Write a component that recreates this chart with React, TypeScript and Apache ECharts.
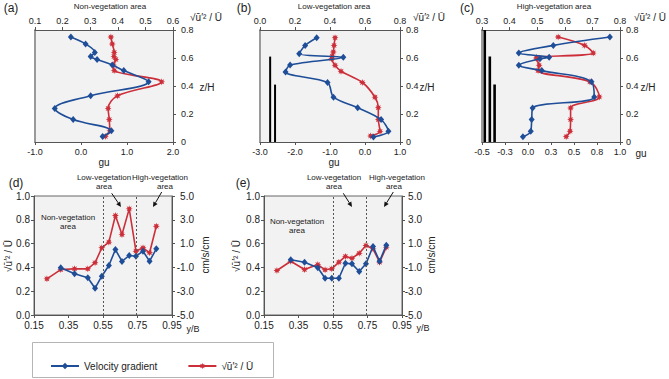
import React, { useEffect, useRef } from "react";
import * as echarts from "echarts";

const FONT = '"Liberation Sans", Arial, Helvetica, sans-serif';
const BLUE = "#1f4e98";
const RED = "#cc2f3a";
const RATIO_LABEL = "√ū′² / Ū";
const GRADIENT_LABEL = "Velocity gradient";

// (a) Non-vegetation area: vertical profiles over z/H
const zA = [0.75, 0.7, 0.64, 0.61, 0.59, 0.55, 0.51, 0.43, 0.33, 0.24, 0.16, 0.08, 0.04];
const guA = [-0.22, 0.1, 0.3, 0.21, 0.35, 0.68, 0.93, 1.47, 0.21, -0.57, -0.17, 0.66, 0.47];
const ratioA = [0.375, 0.38, 0.387, 0.386, 0.393, 0.384, 0.387, 0.559, 0.399, 0.365, 0.369, 0.371, 0.355];

// (b) Low-vegetation area
const zGuB = [0.745, 0.69, 0.63, 0.605, 0.55, 0.5, 0.425, 0.32, 0.245, 0.16, 0.076, 0.036];
const guB = [-1.38, -1.71, -1.88, -0.62, -2.14, -2.27, -1.07, -0.9, -0.21, 0.46, 0.67, 0.24];
const zRatioB = [0.745, 0.69, 0.643, 0.614, 0.595, 0.548, 0.505, 0.425, 0.32, 0.245, 0.16, 0.076, 0.043];
const ratioB = [0.429, 0.423, 0.419, 0.413, 0.41, 0.429, 0.463, 0.585, 0.657, 0.676, 0.676, 0.686, 0.632];
const stemGuB = [-2.71, -2.57];
const stemHeightB = [0.61, 0.41];

// (c) High-vegetation area
const zC = [0.75, 0.69, 0.635, 0.605, 0.595, 0.548, 0.51, 0.43, 0.322, 0.243, 0.16, 0.077, 0.038];
const guC = [0.89, 0.275, -0.1, 0.23, 0.13, -0.1, 0.15, 0.69, 0.72, 0.05, 0.04, 0.03, -0.055];
const ratioC = [0.576, 0.672, 0.703, 0.498, 0.498, 0.507, 0.503, 0.691, 0.725, 0.621, 0.621, 0.619, 0.605];
const stemGuC = [-0.47, -0.415, -0.363];
const stemHeightC = [0.8, 0.61, 0.41];

// (d), (e) lateral distributions over y/B
const yB = [0.225, 0.305, 0.385, 0.462, 0.504, 0.543, 0.584, 0.622, 0.66, 0.702, 0.741, 0.782, 0.82, 0.859];
const ratioD = [0.304, 0.382, 0.388, 0.388, 0.439, 0.565, 0.612, 0.836, 0.676, 0.892, 0.536, 0.565, 0.523, 0.746];
const gradD = [-1.03, -1.54, -1.87, -2.75, -1.74, -0.84, 0.5, -0.5, 0.0, -0.06, 0.36, -0.48, 0.56];
const ratioE = [0.374, 0.452, 0.382, 0.424, 0.38, 0.388, 0.444, 0.492, 0.477, 0.519, 0.584, 0.556, 0.444, 0.57];
const gradE = [-0.36, -0.56, -1.03, -1.91, -1.91, -1.91, -0.65, -0.7, -1.34, -0.7, 0.76, -0.48, 0.87];
const zoneBounds = [0.553, 0.745];

// axis ticks
const zTicks = [0, 0.2, 0.4, 0.6, 0.8];
const guTicksA = [-1, 0, 1, 2];
const ratioTicksA = [0.1, 0.2, 0.3, 0.4, 0.5, 0.6];
const guTicksB = [-3, -2, -1, 0, 1];
const ratioTicksB = [0, 0.2, 0.4, 0.6, 0.8];
const guTicksC = [-0.5, -0.25, 0, 0.25, 0.5, 0.75, 1];
const ratioTicksC = [0.3, 0.4, 0.5, 0.6, 0.7, 0.8];
const yBTicks = [0.15, 0.35, 0.55, 0.75, 0.95];
const ratioTicksDE = [0, 0.2, 0.4, 0.6, 0.8, 1];
const gradTicksDE = [-5, -3, -1, 1, 3, 5];

const STAR =
  "path://M1,0 L0.46,0.19 L0.71,0.71 L0.19,0.46 L0,1 L-0.19,0.46 L-0.71,0.71 L-0.46,0.19 L-1,0 L-0.46,-0.19 L-0.71,-0.71 L-0.19,-0.46 L0,-1 L0.19,-0.46 L0.71,-0.71 L0.46,-0.19 Z";

const range = (t: number[]) => ({
  min: t[0],
  max: t[t.length - 1],
  interval: +(t[1] - t[0]).toFixed(6),
});
const zip = (xs: number[], ys: number[]) => xs.map((x, i) => [x, ys[i]]);

const darkLine = { show: true, onZero: false, lineStyle: { color: "#555", width: 1 } };
const ticks = { show: true, length: 3, lineStyle: { color: "#555" } };
const label = (size: number, margin: number, fmt: (v: number) => string, align?: string) => ({
  fontFamily: FONT,
  fontSize: size,
  color: "#222",
  margin,
  formatter: fmt,
  ...(align ? { align } : {}),
});
const f1 = (v: number) => v.toFixed(1);
const f2 = (v: number) => v.toFixed(2);
const fz = (v: number) => (Math.abs(v) < 1e-9 ? "0" : v.toFixed(1));

function xAx(gridIndex: number, t: number[], position: string, fmt: (v: number) => string, size = 9, margin = 5) {
  return {
    type: "value",
    gridIndex,
    position,
    ...range(t),
    axisLine: darkLine,
    axisTick: ticks,
    axisLabel: label(size, margin, fmt),
    splitLine: { show: false },
  };
}

function yAx(
  gridIndex: number,
  t: number[],
  position: string,
  fmt: (v: number) => string,
  size = 9,
  margin = 6,
  align?: string
) {
  return {
    type: "value",
    gridIndex,
    position,
    ...range(t),
    axisLine: darkLine,
    axisTick: ticks,
    axisLabel: label(size, margin, fmt, align),
    splitLine: { show: false },
  };
}

function leftEdge(gridIndex: number) {
  return {
    type: "value",
    gridIndex,
    position: "left",
    ...range(zTicks),
    axisLine: { show: true, onZero: false, lineStyle: { color: "#9a9a9a", width: 2 } },
    axisTick: { show: false },
    axisLabel: { show: false },
    splitLine: { show: false },
  };
}

function gradLine(data: number[][], x: number, y: number, smooth: number | boolean) {
  return {
    type: "line",
    name: GRADIENT_LABEL,
    xAxisIndex: x,
    yAxisIndex: y,
    data,
    smooth,
    symbol: "diamond",
    symbolSize: [6, 7],
    itemStyle: { color: BLUE },
    lineStyle: { color: BLUE, width: 1.6 },
    z: 3,
  };
}

function ratioLine(data: number[][], x: number, y: number, smooth: number | boolean) {
  return {
    type: "line",
    name: RATIO_LABEL,
    xAxisIndex: x,
    yAxisIndex: y,
    data,
    smooth,
    symbol: STAR,
    symbolSize: 7,
    itemStyle: { color: RED },
    lineStyle: { color: RED, width: 1.6 },
    z: 2,
  };
}

function stems(xs: number[], hs: number[], x: number, y: number, width: number) {
  return xs.map((gx, i) => ({
    type: "line",
    name: "stem",
    xAxisIndex: x,
    yAxisIndex: y,
    data: [
      [gx, 0],
      [gx, hs[i]],
    ],
    symbol: "none",
    lineStyle: { color: "#000", width, cap: "butt" },
    z: 1,
  }));
}

function text(t: string, x: number, y: number, size: number, extra: any = {}) {
  return {
    type: "text",
    x,
    y,
    ...extra,
    style: {
      text: t,
      fontFamily: FONT,
      fontSize: size,
      fill: "#222",
      align: "center",
      verticalAlign: "middle",
      ...(extra.style || {}),
    },
  };
}

function arrow(x1: number, y1: number, x2: number, y2: number) {
  const a = Math.atan2(y2 - y1, x2 - x1);
  const L = 5;
  const W = 2.4;
  const bx = x2 - L * Math.cos(a);
  const by = y2 - L * Math.sin(a);
  const px = -Math.sin(a) * W;
  const py = Math.cos(a) * W;
  return [
    { type: "line", shape: { x1, y1, x2: bx, y2: by }, style: { stroke: "#111", lineWidth: 1 } },
    {
      type: "polygon",
      shape: { points: [[x2, y2], [bx + px, by + py], [bx - px, by - py]] },
      style: { fill: "#111" },
    },
  ];
}

export default function App() {
  const ref = useRef<HTMLDivElement>(null);

  useEffect(() => {
    if (!ref.current) return;
    const chart = echarts.init(ref.current, undefined, { renderer: "svg" });

    const profileGrid = { show: true, backgroundColor: "#f2f2f2", borderWidth: 0 };
    const sectionGrid = { show: true, backgroundColor: "#f2f2f2", borderWidth: 1, borderColor: "#666" };

    const zoneLines = {
      silent: true,
      symbol: "none",
      label: { show: false },
      lineStyle: { color: "#555", type: [2, 2], width: 1 },
      data: zoneBounds.map((v) => ({ xAxis: v })),
    };

    const option: any = {
      animation: false,
      backgroundColor: "#fff",
      grid: [
        { left: 35, top: 30, width: 138, height: 112, ...profileGrid },
        { left: 260, top: 30, width: 140, height: 112, ...profileGrid },
        { left: 482, top: 30, width: 138, height: 112, ...profileGrid },
        { left: 34, top: 196, width: 138, height: 119, ...sectionGrid },
        { left: 264, top: 196, width: 138, height: 119, ...sectionGrid },
      ],
      xAxis: [
        xAx(0, guTicksA, "bottom", f1),
        xAx(0, ratioTicksA, "top", f1),
        xAx(1, guTicksB, "bottom", f1),
        xAx(1, ratioTicksB, "top", f1),
        xAx(2, guTicksC, "bottom", f1),
        xAx(2, ratioTicksC, "top", f1),
        xAx(3, yBTicks, "bottom", f2, 10, 5),
        xAx(4, yBTicks, "bottom", f2, 10, 5),
      ],
      yAxis: [
        yAx(0, zTicks, "right", fz, 9, 8),
        leftEdge(0),
        yAx(1, zTicks, "right", fz, 9, 6),
        leftEdge(1),
        yAx(2, zTicks, "right", fz, 9, 6),
        leftEdge(2),
        yAx(3, ratioTicksDE, "left", f1, 10, 4),
        yAx(3, gradTicksDE, "right", f1, 10, 22, "right"),
        yAx(4, ratioTicksDE, "left", f1, 10, 4),
        yAx(4, gradTicksDE, "right", f1, 10, 20, "right"),
      ],
      legend: {
        data: [GRADIENT_LABEL, RATIO_LABEL],
        left: 45,
        top: 356,
        itemWidth: 28,
        itemHeight: 8,
        itemGap: 30,
        textStyle: { fontFamily: FONT, fontSize: 10, color: "#222" },
      },
      series: [
        ratioLine(zip(ratioA, zA), 1, 0, 0.35),
        gradLine(zip(guA, zA), 0, 0, 0.35),
        ...stems(stemGuB, stemHeightB, 2, 2, 2),
        ratioLine(zip(ratioB, zRatioB), 3, 2, 0.3),
        gradLine(zip(guB, zGuB), 2, 2, 0.3),
        ...stems(stemGuC, stemHeightC, 4, 4, 2.6),
        ratioLine(zip(ratioC, zC), 5, 4, 0.35),
        gradLine(zip(guC, zC), 4, 4, 0.35),
        { ...ratioLine(zip(yB, ratioD), 6, 6, false), markLine: zoneLines },
        gradLine(zip(yB.slice(1), gradD), 6, 7, false),
        { ...ratioLine(zip(yB, ratioE), 7, 8, false), markLine: zoneLines },
        gradLine(zip(yB.slice(1), gradE), 7, 9, false),
      ],
      graphic: [
        text("(a)", 11, 8, 12),
        text("(b)", 244, 8, 12),
        text("(c)", 467, 8, 12),
        text("Non-vegetation area", 110, 6, 8),
        text("Low-vegetation area", 334, 6, 8),
        text("High-vegetation area", 554, 6, 8),
        text(RATIO_LABEL, 206, 17, 10),
        text(RATIO_LABEL, 429, 17, 10),
        text(RATIO_LABEL, 650, 17, 10),
        text("z/H", 207, 87, 10),
        text("z/H", 427, 87, 10),
        text("z/H", 648, 87, 10),
        text("gu", 104, 162, 10),
        text("gu", 334, 162, 10),
        text("gu", 641, 153, 10),
        text("(d)", 16, 183, 12),
        text("(e)", 243, 183, 12),
        text("Low-vegetation", 104, 177, 8),
        text("area", 104, 186, 8),
        text("High-vegetation", 160, 177, 8),
        text("area", 165, 186, 8),
        text("Non-vegetation", 68, 217, 8),
        text("area", 68, 226, 8),
        text("Low-vegetation", 334, 177, 8),
        text("area", 334, 186, 8),
        text("High-vegetation", 397, 177, 8),
        text("area", 394, 186, 8),
        text("Non-vegetation", 297, 221, 8),
        text("area", 297, 230, 8),
        ...arrow(111.7, 193.3, 121, 207),
        ...arrow(161.7, 192, 153, 207),
        ...arrow(343.3, 193.3, 352, 207),
        ...arrow(393.3, 192, 384, 207),
        text(RATIO_LABEL, 8, 256, 10, { rotation: Math.PI / 2 }),
        text("cm/s/cm", 205, 255, 10, { rotation: Math.PI / 2 }),
        text(RATIO_LABEL, 236, 256, 10, { rotation: Math.PI / 2 }),
        text("cm/s/cm", 431, 255, 10, { rotation: Math.PI / 2 }),
        text("y/B", 193, 329, 9),
        text("y/B", 423, 328, 9),
        {
          type: "rect",
          shape: { x: 32.5, y: 342.5, width: 241, height: 35 },
          style: { fill: "none", stroke: "#b5b5b5", lineWidth: 1 },
        },
      ],
    };

    chart.setOption(option);
    return () => chart.dispose();
  }, []);

  return (
    <div
      ref={ref}
      style={{ position: "fixed", left: 0, top: 0, width: 669, height: 379, background: "#fff" }}
    />
  );
}
